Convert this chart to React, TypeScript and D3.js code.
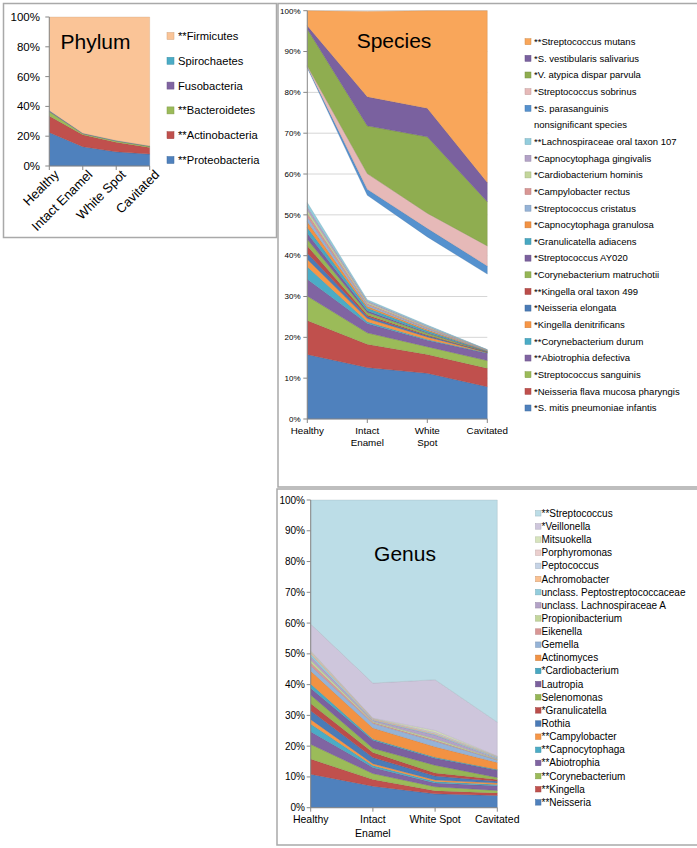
import React from "react";
import * as d3 from "d3";

const stages = ["Healthy", "Intact Enamel", "White Spot", "Cavitated"];

// ---------- Phylum (bottom -> top) ----------
const phylumNames = ["**Proteobacteria", "**Actinobacteria", "**Bacteroidetes", "Fusobacteria", "Spirochaetes", "**Firmicutes"];
const phylumValues = [
  [22.5, 13, 9.5, 8],
  [11, 8, 6.5, 4.5],
  [3, 0.7, 0.8, 0.7],
  [0.5, 0.2, 0.2, 0.2],
  [0.2, 0.1, 0.1, 0.1],
  [62.8, 78, 82.9, 86.5],
];
const phylumColors = ["#4F81BD", "#C0504D", "#9BBB59", "#8064A2", "#4BACC6", "#FAC497"];

// ---------- Species (bottom -> top) ----------
const speciesNames = [
  "*S. mitis pneumoniae infantis",
  "*Neisseria flava mucosa pharyngis",
  "*Streptococcus sanguinis",
  "**Abiotrophia defectiva",
  "**Corynebacterium durum",
  "*Kingella denitrificans",
  "*Neisseria elongata",
  "**Kingella oral taxon 499",
  "*Corynebacterium matruchotii",
  "*Streptococcus AY020",
  "*Granulicatella adiacens",
  "*Capnocytophaga granulosa",
  "*Streptococcus cristatus",
  "*Campylobacter rectus",
  "*Cardiobacterium hominis",
  "*Capnocytophaga gingivalis",
  "**Lachnospiraceae oral taxon 107",
  "nonsignificant species",
  "*S. parasanguinis",
  "*Streptococcus sobrinus",
  "*V. atypica dispar parvula",
  "*S. vestibularis salivarius",
  "**Streptococcus mutans",
];
const speciesValues = [
  [15.8, 12.6, 11.2, 7.9],
  [8.3, 5.7, 4.6, 4.5],
  [6.0, 2.8, 1.9, 1.9],
  [4.1, 2.3, 1.6, 1.8],
  [3.1, 0.4, 0.2, 0.1],
  [1.8, 0.8, 0.6, 0.1],
  [1.5, 0.5, 0.3, 0.05],
  [1.8, 0.4, 0.2, 0.05],
  [1.6, 0.6, 0.4, 0.1],
  [1.5, 0.4, 0.2, 0.05],
  [1.4, 0.7, 0.4, 0.1],
  [1.4, 0.4, 0.3, 0.05],
  [1.2, 0.4, 0.3, 0.1],
  [0.9, 0.3, 0.2, 0.05],
  [0.8, 0.3, 0.2, 0.05],
  [0.8, 0.3, 0.2, 0.05],
  [1.0, 0.3, 0.2, 0.05],
  [33.0, 25.6, 21.6, 18.5],
  [0.3, 1.5, 2.1, 2.0],
  [0.2, 3.8, 3.7, 4.9],
  [9.0, 11.7, 18.7, 10.8],
  [0.8, 7.1, 7.0, 4.7],
  [3.7, 20.9, 23.9, 42.1],
];
const speciesColors = [
  "#4F81BD", "#C0504D", "#9BBB59", "#8064A2", "#4BACC6", "#F79646",
  "#4A7BB7", "#BB4D4A", "#95B655", "#7B609E", "#48A8C2", "#F29243",
  "#95B3D7", "#D99694", "#C3D69B", "#B3A2C7", "#93CDDD", "",
  "#5591CE", "#E6B9B8", "#8FAD50", "#7A619F", "#F9A65A",
];

// ---------- Genus (bottom -> top) ----------
const genusNames = [
  "**Neisseria", "**Kingella", "**Corynebacterium", "**Abiotrophia", "**Capnocytophaga",
  "**Campylobacter", "Rothia", "*Granulicatella", "Selenomonas", "Lautropia",
  "*Cardiobacterium", "Actinomyces", "Gemella", "Eikenella", "Propionibacterium",
  "unclass. Lachnospiraceae A", "unclass. Peptostreptococcaceae", "Achromobacter",
  "Peptococcus", "Porphyromonas", "Mitsuokella", "*Veillonella", "**Streptococcus",
];
const genusValues = [
  [10.9, 7.0, 4.5, 4.0],
  [4.9, 2.2, 1.0, 0.8],
  [4.8, 1.9, 1.3, 0.8],
  [4.1, 2.0, 1.2, 1.5],
  [2.5, 0.6, 0.5, 0.4],
  [1.5, 0.6, 0.5, 0.5],
  [2.8, 2.0, 1.3, 0.6],
  [2.4, 1.6, 1.0, 0.6],
  [2.7, 1.4, 2.5, 0.6],
  [2.2, 2.6, 2.3, 2.4],
  [1.4, 0.4, 0.3, 0.2],
  [4.2, 3.6, 3.4, 2.3],
  [1.7, 1.5, 1.8, 0.8],
  [1.0, 0.3, 0.3, 0.1],
  [0.9, 0.3, 0.5, 0.2],
  [1.1, 0.4, 1.2, 0.3],
  [0.9, 0.2, 0.3, 0.3],
  [0.4, 0.2, 0.2, 0.1],
  [0.2, 0.1, 0.3, 0.1],
  [0.2, 0.1, 0.2, 0.1],
  [0.2, 0.1, 0.5, 0.1],
  [8.7, 11.4, 16.5, 11.0],
  [40.3, 59.5, 58.4, 72.2],
];
const genusColors = [
  "#4F81BD", "#C0504D", "#9BBB59", "#8064A2", "#4BACC6", "#F79646",
  "#4A7BB7", "#BB4D4A", "#95B655", "#7B609E", "#48A8C2", "#F29243",
  "#95B3D7", "#D99694", "#C3D69B", "#B3A2C7", "#93CDDD", "#FAC090",
  "#C5D3E6", "#EBCFCE", "#D7E4BD", "#CEC6DC", "#BCDDE7",
];

const FONT = "Liberation Sans, Arial, Helvetica, sans-serif";
const AXIS = "#878787";

type PanelCfg = {
  names: string[];
  values: number[][];
  colors: string[];
  x0: number; x1: number; yTop: number; yBot: number;
  title: string; titleX: number; titleY: number; titleSize: number;
  tickStep: number; tickFont: number; tickEnd: number;
  grid: boolean;
  legX: number; legSw: number; legTextX: number; legY0: number; legStep: number; legFont: number;
  catMode: "rotate" | "wrap" | "genus";
  catFont: number; catY: number; catLine: number;
};

function StackPanel({ c }: { c: PanelCfg }) {
  const x = d3.scalePoint<string>().domain(stages).range([c.x0, c.x1]);
  const y = d3.scaleLinear().domain([0, 100]).range([c.yBot, c.yTop]);
  const rows = stages.map((s, j) => {
    const r: Record<string, number> = {};
    c.names.forEach((n, i) => (r[n] = c.values[i][j]));
    return r;
  });
  const stack = d3.stack<Record<string, number>>().keys(c.names);
  const layers = stack(rows);
  const area = d3
    .area<any>()
    .x((_d, i) => x(stages[i]) as number)
    .y0((d) => y(d[0]))
    .y1((d) => y(d[1]));
  const ticks = d3.range(0, 100 + 0.001, c.tickStep);
  const legendOrder = c.names.map((n, i) => i).reverse();

  const catLabel = (s: string) => {
    const px = x(s) as number;
    if (c.catMode === "rotate") {
      return (
        <text key={s} transform={`translate(${px + 4},${c.catY}) rotate(-45)`} textAnchor="end"
          dy="0.7em" fontSize={c.catFont} fontFamily={FONT} fill="#000">{s}</text>
      );
    }
    let lines = [s];
    if (s === "Intact Enamel") lines = ["Intact", "Enamel"];
    if (s === "White Spot" && c.catMode === "wrap") lines = ["White", "Spot"];
    return (
      <text key={s} textAnchor="middle" fontSize={c.catFont} fontFamily={FONT} fill="#000">
        {lines.map((l, k) => (
          <tspan key={k} x={px} y={c.catY + k * c.catLine}>{l}</tspan>
        ))}
      </text>
    );
  };

  return (
    <g>
      {c.grid &&
        ticks.filter((t) => t > 0).map((t) => (
          <line key={"g" + t} x1={c.x0} x2={c.x1} y1={y(t)} y2={y(t)} stroke="#D6D6D6" strokeWidth={1} />
        ))}
      {layers.map((L, i) =>
        c.colors[i] ? (
          <path key={i} d={area(L as any) || ""} fill={c.colors[i]}
            stroke={d3.color(c.colors[i])!.darker(0.7).formatHex()} strokeWidth={0.5} strokeOpacity={0.55} />
        ) : null
      )}
      {/* axes */}
      <line x1={c.x0} x2={c.x0} y1={c.yTop} y2={c.yBot} stroke={AXIS} strokeWidth={1} />
      <line x1={c.x0} x2={c.x1} y1={c.yBot} y2={c.yBot} stroke={AXIS} strokeWidth={1} />
      {ticks.map((t) => (
        <g key={"t" + t}>
          <line x1={c.x0 - 4} x2={c.x0} y1={y(t)} y2={y(t)} stroke={AXIS} strokeWidth={1} />
          <text x={c.tickEnd} y={y(t)} dy="0.35em" textAnchor="end" fontSize={c.tickFont} fontFamily={FONT} fill="#000">
            {`${t}%`}
          </text>
        </g>
      ))}
      {stages.map((s) => (
        <line key={"xt" + s} x1={x(s)} x2={x(s)} y1={c.yBot} y2={c.yBot + 4} stroke={AXIS} strokeWidth={1} />
      ))}
      {stages.map(catLabel)}
      <text x={c.titleX} y={c.titleY} textAnchor="middle" fontSize={c.titleSize} fontFamily={FONT} fill="#000">
        {c.title}
      </text>
      {legendOrder.map((idx, k) => {
        const cy = c.legY0 + k * c.legStep;
        const col = c.colors[idx];
        return (
          <g key={"l" + idx}>
            {col ? (
              <rect x={c.legX} y={cy - c.legSw / 2} width={c.legSw} height={c.legSw} fill={col}
                stroke={d3.color(col)!.darker(0.5).formatHex()} strokeWidth={0.5} />
            ) : null}
            <text x={c.legTextX} y={cy} dy="0.35em" fontSize={c.legFont} fontFamily={FONT} fill="#000">
              {c.names[idx]}
            </text>
          </g>
        );
      })}
    </g>
  );
}

const phylumCfg: PanelCfg = {
  names: phylumNames, values: phylumValues, colors: phylumColors,
  x0: 49.3, x1: 149.7, yTop: 17, yBot: 166,
  title: "Phylum", titleX: 95.5, titleY: 49, titleSize: 21,
  tickStep: 20, tickFont: 11.5, tickEnd: 40, grid: false,
  legX: 167, legSw: 7, legTextX: 178, legY0: 36, legStep: 24.8, legFont: 11.2,
  catMode: "rotate", catFont: 13, catY: 169, catLine: 0,
};

const speciesCfg: PanelCfg = {
  names: speciesNames, values: speciesValues, colors: speciesColors,
  x0: 307.3, x1: 487.3, yTop: 10.7, yBot: 419,
  title: "Species", titleX: 394, titleY: 48, titleSize: 21,
  tickStep: 10, tickFont: 8, tickEnd: 300.5, grid: true,
  legX: 525, legSw: 6, legTextX: 534, legY0: 41.7, legStep: 16.65, legFont: 9.5,
  catMode: "wrap", catFont: 9.8, catY: 433.5, catLine: 12.2,
};

const genusCfg: PanelCfg = {
  names: genusNames, values: genusValues, colors: genusColors,
  x0: 310.7, x1: 497.3, yTop: 500, yBot: 807.7,
  title: "Genus", titleX: 405, titleY: 561, titleSize: 21,
  tickStep: 10, tickFont: 10, tickEnd: 305, grid: false,
  legX: 535.5, legSw: 5.5, legTextX: 541.5, legY0: 513.3, legStep: 13.14, legFont: 10,
  catMode: "genus", catFont: 10.5, catY: 823, catLine: 13.5,
};

export default function App() {
  return (
    <svg width={697} height={848} style={{ position: "absolute", left: 0, top: 0, background: "#fff" }}>
      <rect x={0} y={0} width={697} height={848} fill="#fff" />
      {/* panel frames */}
      <rect x={3.5} y={3.5} width={273} height={234} fill="#fff" stroke="#A9A9A9" strokeWidth={1.5} />
      <rect x={278} y={3.5} width={430} height={483.5} fill="#fff" stroke="#A9A9A9" strokeWidth={1.5} />
      <rect x={277} y={489} width={430} height={356} fill="#fff" stroke="#A9A9A9" strokeWidth={1.5} />
      <StackPanel c={phylumCfg} />
      <StackPanel c={speciesCfg} />
      <StackPanel c={genusCfg} />
    </svg>
  );
}
